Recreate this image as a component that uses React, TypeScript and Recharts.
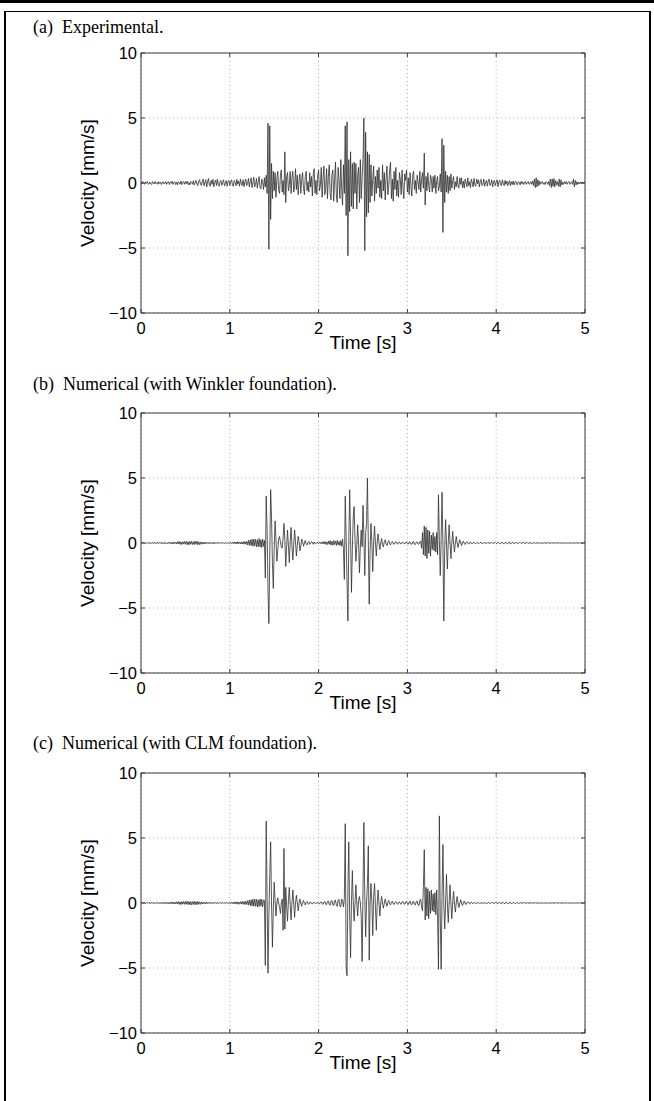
import React from 'react';
import { LineChart, Line, XAxis, YAxis, CartesianGrid } from 'recharts';

// ---------- data ----------
const TIME_TICKS = [0, 1, 2, 3, 4, 5];
const VELOCITY_TICKS = [-10, -5, 0, 5, 10];
const SAMPLE_STEP_S = 0.01; // velocity samples below are every 0.01 s from 0 to 5 s

const PANEL_TITLES = [
  '(a)  Experimental.',
  '(b)  Numerical (with Winkler foundation).',
  '(c)  Numerical (with CLM foundation).',
];

// (a) Experimental velocity [mm/s]
const EXPERIMENTAL = [
  0.05, -0.08, 0.1, 0.02, -0.1, 0.06, -0.04, 0.12, -0.06, -0.1,
  0.08, -0.02, -0.12, 0.1, 0.04, -0.08, 0.12, -0.05, 0.02, -0.1,
  0.1, -0.04, 0.06, -0.12, 0.02, 0.1, -0.08, -0.02, 0.12, -0.1,
  0.04, 0.1, -0.12, 0.06, -0.02, 0.14, -0.1, 0.02, 0.1, -0.12,
  0.06, -0.14, 0.1, 0.02, -0.1, 0.16, -0.12, 0.04, 0.12, -0.1,
  0.1, -0.05, 0.15, -0.12, 0.02, -0.15, 0.12, 0.05, -0.1, 0.18,
  -0.15, 0.05, 0.2, -0.1, -0.2, 0.12, 0.25, -0.08, -0.18, 0.1,
  0.3, -0.22, 0.05, 0.25, -0.3, 0.1, 0.35, -0.15, -0.25, 0.2,
  -0.1, 0.28, -0.3, 0.05, 0.22, -0.2, 0.3, -0.1, -0.25, 0.15,
  0.2, -0.18, 0.05, 0.25, -0.22, -0.05, 0.18, -0.25, 0.12, 0.2,
  -0.2, 0.1, 0.25, -0.15, -0.25, 0.2, 0.05, -0.22, 0.28, -0.1,
  0.15, -0.25, 0.3, -0.05, -0.2, 0.25, -0.28, 0.1, 0.3, -0.2,
  -0.05, 0.35, -0.3, 0.1, 0.4, -0.35, 0.05, 0.45, -0.3, -0.1,
  0.35, -0.4, 0.1, 0.5, -0.3, -0.45, 0.3, 0.1, -0.5, 0.4,
  -0.3, 0.6, -0.8, 4.6, -5.1, 4.4, -2.8, 1.5, -1.2, 0.9,
  -0.6, 0.8, -1.1, 0.3, 0.9, -0.5, -0.8, 0.6, 1.0, -0.7,
  0.2, -0.9, 2.4, -1.5, 0.5, 0.8, -0.6, -0.2, 0.9, -0.8,
  0.4, 0.9, -0.7, -0.3, 1.1, -0.5, 0.6, -0.9, 0.2, 0.7,
  -0.8, 0.3, 0.8, -0.4, -0.9, 0.5, 0.9, -0.6, 0.1, -0.7,
  0.8, -0.3, 0.5, -1.0, 0.7, 1.1, -0.8, 0.2, -0.9, 0.6,
  1.0, -0.6, -0.2, 1.2, -1.1, 0.4, 1.3, -0.9, -0.4, 1.1,
  -1.2, 0.5, 1.4, -0.8, -1.3, 0.6, 1.0, -1.4, 0.3, 1.6,
  -1.0, -1.5, 1.2, 0.2, -1.2, 1.8, -0.6, -1.7, 1.4, -0.8,
  4.4, -2.5, 4.7, -5.6, 1.8, -2.2, 2.4, -1.8, 1.5, -2.0,
  1.6, -0.8, 1.5, -2.0, 0.6, 1.2, -1.5, 1.8, -1.2, 0.4,
  1.8, 5.0, -5.2, 3.9, -2.6, 2.4, -2.3, 2.2, -1.5, 1.4,
  -1.0, 0.3, 1.3, -1.4, 0.5, -0.8, 1.0, -0.4, 1.2, -1.1,
  0.2, -1.2, 1.4, -0.6, 0.8, -1.3, 0.4, 1.3, -0.9, -0.2,
  1.0, 1.6, -1.2, 0.3, -1.4, 0.9, -0.5, 1.2, -1.0, 0.2,
  -1.1, 0.8, 0.3, -0.9, 1.0, -0.4, -1.2, 0.7, 0.2, 1.0,
  -0.7, 0.4, -0.9, 0.8, -0.2, -1.0, 0.6, 0.9, -0.5, 0.2,
  -0.8, 0.6, 0.1, -0.5, 0.9, -0.7, 0.3, 0.8, -0.4, 2.3,
  -1.7, 0.5, -0.6, 0.8, -0.2, -0.7, 0.6, 0.3, -0.7, 0.5,
  -0.4, 0.6, -0.8, 0.2, 0.5, -0.6, -0.3, 0.7, -0.7, 3.4,
  -3.8, 2.9, -1.5, 0.9, -0.7, 0.6, -0.8, 0.5, -0.6, 0.7,
  -0.4, 0.2, 0.5, -0.5, 0.1, -0.3, 0.5, -0.2, -0.4, 0.4,
  -0.1, 0.4, -0.35, 0.15, -0.4, 0.3, 0.05, -0.3, 0.4, -0.2,
  0.1, -0.35, 0.3, 0.05, -0.3, 0.35, -0.15, -0.25, 0.3, -0.05,
  0.25, -0.3, 0.1, 0.28, -0.2, -0.1, 0.3, -0.25, 0.05, 0.2,
  -0.25, 0.15, 0.3, -0.2, -0.05, 0.25, -0.3, 0.1, 0.2, -0.2,
  0.05, 0.25, -0.28, 0.1, 0.22, -0.15, -0.2, 0.25, -0.05, -0.2,
  0.2, -0.1, 0.15, -0.2, 0.05, 0.18, -0.2, 0.1, -0.12, 0.15,
  -0.15, 0.05, 0.15, -0.1, -0.12, 0.1, 0.05, -0.15, 0.12, -0.05,
  0.1, -0.12, 0.05, 0.12, -0.1, 0.02, 0.12, -0.1, -0.05, 0.1,
  -0.1, 0.15, -0.2, 0.3, -0.35, 0.4, -0.3, 0.25, -0.2, 0.15,
  -0.1, 0.05, 0.12, -0.1, 0.02, -0.12, 0.1, 0.05, -0.1, 0.12,
  -0.2, 0.3, -0.35, 0.3, -0.25, 0.35, -0.3, 0.2, -0.15, 0.1,
  -0.25, 0.3, -0.3, 0.25, -0.15, 0.05, -0.1, 0.12, -0.05, 0.1,
  -0.1, 0.05, 0.12, -0.1, -0.02, 0.1, -0.1, 0.3, -0.3, 0.2,
  -0.15, 0.1, -0.1, 0.05, -0.08, 0.08, -0.05, 0.08, -0.06, 0.05,
  0,
];

// (b) Numerical, Winkler foundation, velocity [mm/s]
const WINKLER = [
  0, 0.03, -0.02, 0.04, -0.03, 0.02, -0.04, 0.03, -0.02, 0.03,
  -0.03, 0.02, -0.04, 0.05, -0.03, 0.04, -0.05, 0.03, -0.02, 0.04,
  -0.05, 0.04, -0.03, 0.06, -0.05, 0.03, -0.06, 0.05, -0.04, 0.03,
  -0.06, 0.05, -0.04, 0.07, -0.06, 0.05, -0.08, 0.06, -0.05, 0.07,
  -0.08, 0.1, -0.07, 0.12, -0.1, 0.08, -0.12, 0.1, -0.08, 0.12,
  -0.1, 0.13, -0.12, 0.1, -0.14, 0.12, -0.1, 0.14, -0.12, 0.1,
  -0.12, 0.15, -0.1, 0.12, -0.14, 0.1, -0.12, 0.08, -0.1, 0.07,
  -0.08, 0.06, -0.07, 0.05, -0.06, 0.04, -0.05, 0.06, -0.04, 0.05,
  -0.05, 0.04, -0.06, 0.05, -0.04, 0.03, -0.05, 0.04, -0.03, 0.04,
  -0.03, 0.04, -0.03, 0.02, -0.04, 0.03, -0.02, 0.03, -0.03, 0.02,
  -0.03, 0.04, -0.05, 0.06, -0.05, 0.07, -0.06, 0.08, -0.07, 0.1,
  -0.06, 0.08, -0.07, 0.09, -0.08, 0.1, -0.09, 0.12, -0.1, 0.12,
  -0.15, 0.2, -0.18, 0.25, -0.2, 0.28, -0.25, 0.3, -0.22, 0.28,
  -0.3, 0.25, -0.28, 0.35, -0.3, 0.25, -0.35, 0.3, -0.25, 0.2,
  -2.7, 3.6, 1.0, -3.5, -6.2, -1.0, 4.1, 2.0, -1.5, -3.5,
  -0.5, 1.7, 0.3, -1.4, -0.6, 0.3, 0.5, 0.1, -0.3, -0.4,
  0.4, 1.5, 0.2, -1.8, -0.3, 1.0, -0.2, -1.5, 0.0, 1.2,
  -0.2, -1.3, -0.1, 1.0, 0.1, -1.0, -0.2, 0.5, 0.1, -0.6,
  -0.2, 0.3, 0.1, -0.25, 0.0, 0.2, -0.05, -0.15, 0.05, 0.12,
  -0.1, -0.05, 0.1, 0.05, -0.1, 0.08, -0.05, -0.06, 0.05, 0.04,
  -0.05, 0.06, -0.04, 0.07, -0.06, 0.1, -0.08, 0.12, -0.1, 0.08,
  -0.12, 0.15, -0.1, 0.18, -0.15, 0.12, -0.18, 0.2, -0.12, 0.15,
  -0.18, 0.2, -0.15, 0.12, -0.2, 0.18, -0.25, 0.3, -0.5, -2.8,
  3.6, 0.5, -3.0, -6.0, 0.0, 4.1, 0.5, -3.8, -0.5, 2.0,
  2.8, 0.3, -1.4, -0.2, 1.4, 0.0, -2.3, -0.3, 1.0, -0.3,
  2.9, 0.5, -2.5, 0.8, 1.5, 5.0, 0.0, -4.7, -0.5, 1.5,
  0.0, -2.2, 0.0, 1.3, 0.0, -1.0, 0.1, 0.7, 0.0, -0.5,
  0.0, 0.35, -0.1, -0.3, 0.1, 0.25, -0.05, -0.2, 0.05, 0.18,
  -0.05, -0.15, 0.05, 0.12, -0.05, -0.1, 0.05, 0.1, -0.04, -0.08,
  0.04, 0.08, -0.05, -0.07, 0.04, 0.06, -0.05, -0.06, 0.05, 0.08,
  -0.06, -0.08, 0.06, 0.1, -0.07, -0.1, 0.08, 0.12, -0.1, -0.12,
  0.05, 0.08, -0.06, -0.1, 0.1, 0.15, -0.4, 0.8, -0.9, 1.3,
  -1.0, 1.2, -1.2, 1.0, -0.8, 0.9, -1.0, 0.6, -0.5, 0.8,
  -0.6, 0.5, -0.7, 0.8, -0.9, 3.7, 0.2, -2.5, 0.3, 3.9,
  0.0, -6.0, -0.5, 1.8, 0.0, -2.0, 0.0, 1.4, 0.0, -1.2,
  0.0, 0.9, 0.0, -0.7, 0.0, 0.5, 0.0, -0.35, 0.0, 0.25,
  0.0, -0.2, 0.0, 0.15, -0.02, -0.12, 0.02, 0.1, -0.02, -0.08,
  0.02, 0.08, -0.03, -0.06, 0.03, 0.05, -0.03, -0.05, 0.02, 0.04,
  -0.02, -0.04, 0.03, 0.05, -0.03, -0.04, 0.02, 0.03, -0.02, -0.03,
  0.02, 0.03, -0.02, -0.03, 0.02, 0.04, -0.03, -0.04, 0.03, 0.04,
  -0.03, -0.05, 0.04, 0.05, -0.04, -0.05, 0.04, 0.06, -0.04, -0.05,
  0.04, 0.05, -0.04, -0.06, 0.05, 0.06, -0.05, -0.05, 0.04, 0.05,
  -0.04, -0.05, 0.04, 0.04, -0.03, -0.04, 0.03, 0.04, -0.03, -0.03,
  0.03, 0.03, -0.02, -0.03, 0.02, 0.03, -0.02, -0.02, 0.02, 0.02,
  -0.02, -0.03, 0.02, 0.03, -0.02, -0.02, 0.02, 0.02, -0.01, -0.02,
  0.01, 0.02, -0.01, -0.02, 0.01, 0.02, -0.01, -0.01, 0.01, 0.01,
  -0.01, -0.02, 0.01, 0.02, -0.01, -0.01, 0.01, 0.01, -0.01, -0.01,
  0.01, 0.01, -0.01, -0.01, 0.01, 0.01, -0.01, -0.01, 0.01, 0.01,
  -0.01, -0.01, 0.01, 0.01, -0.01, -0.01, 0.01, 0.01, -0.01, -0.01,
  0.01, 0.01, -0.01, -0.01, 0.01, 0.01, -0.01, -0.01, 0.01, 0.01,
  0,
];

// (c) Numerical, CLM foundation, velocity [mm/s]
const CLM = [
  0, -0.02, 0.03, -0.03, 0.02, -0.04, 0.03, -0.02, 0.04, -0.03,
  0.02, -0.04, 0.05, -0.03, 0.04, -0.05, 0.03, -0.04, 0.05, -0.03,
  0.04, -0.05, 0.03, -0.06, 0.05, -0.04, 0.06, -0.05, 0.04, -0.06,
  0.05, -0.07, 0.06, -0.05, 0.08, -0.06, 0.07, -0.08, 0.06, -0.07,
  0.09, -0.08, 0.11, -0.1, 0.09, -0.12, 0.1, -0.09, 0.12, -0.1,
  0.12, -0.1, 0.14, -0.12, 0.1, -0.13, 0.12, -0.14, 0.1, -0.12,
  0.14, -0.12, 0.1, -0.13, 0.12, -0.1, 0.09, -0.1, 0.08, -0.07,
  0.07, -0.06, 0.05, -0.07, 0.06, -0.05, 0.04, -0.05, 0.05, -0.04,
  0.04, -0.05, 0.04, -0.03, 0.05, -0.04, 0.03, -0.04, 0.04, -0.03,
  0.03, -0.02, 0.04, -0.03, 0.02, -0.03, 0.03, -0.02, 0.03, -0.04,
  0.04, -0.05, 0.06, -0.05, 0.07, -0.06, 0.08, -0.07, 0.09, -0.1,
  0.08, -0.09, 0.1, -0.08, 0.11, -0.1, 0.12, -0.11, 0.13, -0.12,
  0.18, -0.15, 0.22, -0.2, 0.25, -0.22, 0.28, -0.25, 0.3, -0.25,
  0.28, -0.3, 0.25, -0.28, 0.3, -0.22, 0.28, -0.3, 0.22, 0.2,
  -4.8, 6.3, 0.5, -5.4, -1.0, 2.0, 4.7, 0.0, -3.4, -0.5,
  1.6, 0.2, -1.0, 0.0, 0.4, 0.0, -0.3, -0.8, 0.0, 0.3,
  -2.1, 4.2, -2.0, 1.2, -0.3, -1.4, 0.2, 1.2, -0.1, -1.3,
  0.0, 1.0, 0.0, -1.1, 0.0, 0.6, 0.0, -0.6, 0.0, 0.3,
  -0.05, -0.25, 0.05, 0.2, -0.05, -0.15, 0.05, 0.12, -0.05, -0.1,
  0.05, 0.08, -0.05, -0.06, 0.05, 0.05, -0.04, -0.05, 0.04, 0.05,
  -0.05, -0.06, 0.06, 0.08, -0.06, -0.1, 0.08, 0.12, -0.1, -0.12,
  0.12, 0.15, -0.12, -0.18, 0.15, 0.2, -0.15, -0.2, 0.18, 0.22,
  -0.2, -0.25, 0.22, 0.28, -0.25, -0.3, 0.3, 0.2, -0.3, 0.35,
  6.1, -4.8, -5.6, 1.0, 4.7, -1.0, -4.2, 0.0, 2.5, 0.0,
  -1.4, 0.0, 1.4, 0.0, -1.0, 0.2, 0.5, 0.0, -1.0, -4.5,
  1.0, 6.2, 0.5, -2.6, 0.0, 1.5, 4.4, -4.4, 0.0, 1.5,
  0.0, -2.5, 0.5, 1.5, -0.2, -2.1, 0.0, 1.0, 0.0, -1.0,
  0.0, 0.5, 0.0, -0.4, 0.0, 0.3, 0.0, -0.25, 0.05, 0.2,
  -0.05, -0.15, 0.05, 0.15, -0.05, -0.12, 0.05, 0.1, -0.04, -0.1,
  0.05, 0.1, -0.05, -0.1, 0.06, 0.12, -0.06, -0.1, 0.08, 0.12,
  -0.08, -0.12, 0.1, 0.15, -0.1, -0.12, 0.1, 0.12, -0.1, -0.15,
  0.12, 0.15, -0.15, -0.2, 0.2, 0.3, -0.3, -0.6, 1.2, 4.1,
  -1.3, 1.2, -1.0, 1.1, -1.2, 0.9, -0.8, 1.0, -0.6, 0.7,
  -0.7, 0.8, -0.9, 1.0, -1.2, -5.1, 6.7, -1.0, -5.1, 0.5,
  4.5, 0.0, -2.0, 0.0, 2.2, 0.0, -1.5, 0.0, 1.4, 0.0,
  -1.2, 0.0, 0.9, 0.0, -0.7, 0.0, 0.5, 0.0, -0.35, 0.0,
  0.25, 0.0, -0.2, 0.0, 0.15, -0.02, -0.12, 0.02, 0.1, -0.02,
  -0.08, 0.02, 0.06, -0.02, -0.05, 0.02, 0.04, -0.02, -0.04, 0.02,
  0.03, -0.02, -0.03, 0.02, 0.03, -0.02, -0.03, 0.02, 0.03, -0.03,
  -0.03, 0.03, 0.04, -0.03, -0.04, 0.03, 0.04, -0.03, -0.04, 0.04,
  0.05, -0.04, -0.05, 0.04, 0.05, -0.04, -0.06, 0.05, 0.05, -0.04,
  -0.05, 0.05, 0.06, -0.05, -0.05, 0.04, 0.05, -0.04, -0.04, 0.04,
  0.04, -0.03, -0.04, 0.03, 0.03, -0.03, -0.03, 0.03, 0.03, -0.02,
  -0.02, 0.02, 0.03, -0.02, -0.02, 0.02, 0.02, -0.02, -0.02, 0.02,
  0.02, -0.02, -0.02, 0.02, 0.02, -0.01, -0.02, 0.01, 0.01, -0.01,
  -0.01, 0.01, 0.01, -0.01, -0.01, 0.01, 0.01, -0.01, -0.01, 0.01,
  0.01, -0.01, -0.01, 0.01, 0.01, -0.01, -0.01, 0.01, 0.01, -0.01,
  -0.01, 0.01, 0.01, -0.01, -0.01, 0.01, 0.01, -0.01, -0.01, 0.01,
  0.01, -0.01, -0.01, 0.01, 0.01, -0.01, -0.01, 0.01, 0.01, -0.01,
  -0.01, 0.01, 0.01, -0.01, -0.01, 0.01, 0.01, -0.01, -0.01, 0.01,
  0,
];

const SERIES = [EXPERIMENTAL, WINKLER, CLM];

// ---------- layout ----------
const PAGE_W = 654;
const PAGE_H = 1101;
const PLOT_LEFT = 141;
const PLOT_RIGHT = 585;
const PLOT_H = 260;
const PLOT_TOPS = [53, 413, 773];
const TITLE_OFFSETS = [36, 39, 40];

const TOP_AXIS_H = 10;
const BOTTOM_AXIS_H = 40;
const LEFT_AXIS_W = 60;
const RIGHT_AXIS_W = 10;

const SANS = '"Liberation Sans", Arial, Helvetica, sans-serif';
const SERIF = '"Liberation Serif", "Times New Roman", serif';
const AXIS_COLOR = '#3a3a3a';

const fmtTick = (v: number) => (v < 0 ? `\u2212${Math.abs(v)}` : `${v}`);
const EmptyTick = () => <g />;

function Panel({ idx }: { idx: number }) {
  const values = SERIES[idx];
  const data = values.map((v, i) => ({ t: Math.round(i * SAMPLE_STEP_S * 100) / 100, v }));
  const plotTop = PLOT_TOPS[idx];
  const chartTop = plotTop - TOP_AXIS_H;
  const chartH = TOP_AXIS_H + PLOT_H + BOTTOM_AXIS_H;
  const marginLeft = PLOT_LEFT - LEFT_AXIS_W;
  const marginRight = PAGE_W - PLOT_RIGHT - RIGHT_AXIS_W;
  const tickStyle = { fill: '#000', fontSize: 16.5, fontFamily: SANS };

  return (
    <>
      <div
        style={{
          position: 'absolute',
          left: 33,
          top: plotTop - TITLE_OFFSETS[idx],
          fontFamily: SERIF,
          fontSize: 18,
          lineHeight: '20px',
          whiteSpace: 'pre',
          color: '#000',
        }}
      >
        {PANEL_TITLES[idx]}
      </div>
      <div style={{ position: 'absolute', left: 0, top: chartTop }}>
        <LineChart
          width={PAGE_W}
          height={chartH}
          data={data}
          margin={{ top: 0, right: marginRight, bottom: 0, left: marginLeft }}
        >
          <CartesianGrid stroke="#b5b5b5" strokeDasharray="1 3" strokeWidth={1} />
          <XAxis
            xAxisId={0}
            dataKey="t"
            type="number"
            domain={[0, 5]}
            ticks={TIME_TICKS}
            orientation="bottom"
            height={BOTTOM_AXIS_H}
            tickSize={-4}
            tickMargin={13}
            stroke={AXIS_COLOR}
            tick={tickStyle}
            tickFormatter={fmtTick}
            allowDataOverflow
          />
          <XAxis
            xAxisId="top"
            dataKey="t"
            type="number"
            domain={[0, 5]}
            ticks={TIME_TICKS}
            orientation="top"
            height={TOP_AXIS_H}
            tickSize={-4}
            stroke={AXIS_COLOR}
            tick={EmptyTick}
            allowDataOverflow
          />
          <YAxis
            yAxisId={0}
            type="number"
            domain={[-10, 10]}
            ticks={VELOCITY_TICKS}
            width={LEFT_AXIS_W}
            tickSize={-4}
            tickMargin={8}
            stroke={AXIS_COLOR}
            tick={tickStyle}
            tickFormatter={fmtTick}
            allowDataOverflow
          />
          <YAxis
            yAxisId="right"
            orientation="right"
            type="number"
            domain={[-10, 10]}
            ticks={VELOCITY_TICKS}
            width={RIGHT_AXIS_W}
            tickSize={-4}
            stroke={AXIS_COLOR}
            tick={EmptyTick}
            allowDataOverflow
          />
          <Line
            xAxisId={0}
            yAxisId={0}
            type="linear"
            dataKey="v"
            stroke="#2e2e2e"
            strokeWidth={0.8}
            dot={false}
            activeDot={false}
            isAnimationActive={false}
          />
        </LineChart>
      </div>
      <div
        style={{
          position: 'absolute',
          left: PLOT_LEFT,
          width: PLOT_RIGHT - PLOT_LEFT,
          top: plotTop + PLOT_H + 19,
          textAlign: 'center',
          fontFamily: SANS,
          fontSize: 19,
          lineHeight: '22px',
          color: '#000',
        }}
      >
        Time [s]
      </div>
      <div
        style={{
          position: 'absolute',
          left: 88 - 100,
          top: plotTop + PLOT_H / 2 - 11,
          width: 200,
          height: 22,
          lineHeight: '22px',
          textAlign: 'center',
          transform: 'rotate(-90deg)',
          fontFamily: SANS,
          fontSize: 19,
          color: '#000',
        }}
      >
        Velocity [mm/s]
      </div>
    </>
  );
}

export default function App() {
  return (
    <div
      style={{
        position: 'absolute',
        left: 0,
        top: 0,
        width: PAGE_W,
        height: PAGE_H,
        background: '#fff',
        overflow: 'hidden',
      }}
    >
      <div style={{ position: 'absolute', left: 0, top: 0, width: PAGE_W, height: 3, background: '#000' }} />
      <div style={{ position: 'absolute', left: 4, top: 11, width: 647, height: 1, background: '#000' }} />
      <div style={{ position: 'absolute', left: 4, top: 11, width: 2, height: PAGE_H - 11, background: '#000' }} />
      <div style={{ position: 'absolute', left: 649, top: 11, width: 2, height: PAGE_H - 11, background: '#000' }} />
      {[0, 1, 2].map((i) => (
        <Panel key={i} idx={i} />
      ))}
    </div>
  );
}
